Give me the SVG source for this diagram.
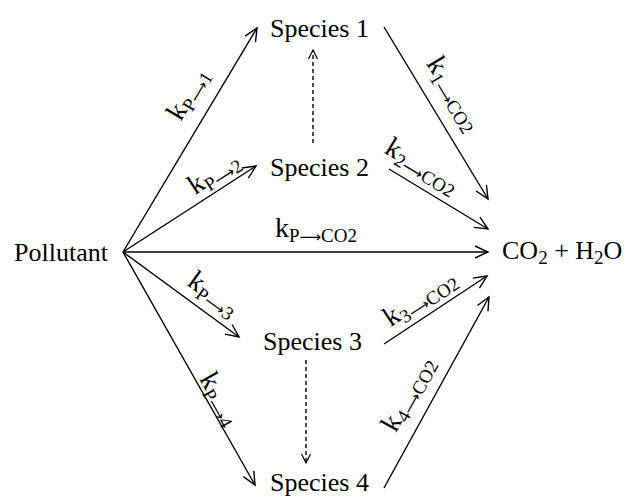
<svg xmlns="http://www.w3.org/2000/svg" width="626" height="497" viewBox="0 0 626 497">
<style>
text{font-family:"Liberation Serif","Times New Roman",serif;fill:#000}
.n{font-size:26px}
.k{font-size:28px}
.s{font-size:19px}
.r{font-family:"DejaVu Sans",sans-serif;font-size:15px}
.e{stroke:#000;stroke-width:1.4;fill:none}
.d{stroke-dasharray:4 3}
</style>
<defs>
<marker id="a" markerUnits="userSpaceOnUse" markerWidth="30" markerHeight="30" refX="0" refY="0" viewBox="-15 -15 30 30" orient="auto">
<path d="M-13,-6 L0,0 L-13,6" fill="none" stroke="#000" stroke-width="1.4"/>
</marker>
<marker id="b" markerUnits="userSpaceOnUse" markerWidth="30" markerHeight="30" refX="0" refY="0" viewBox="-15 -15 30 30" orient="auto">
<path d="M-9,-4.5 L0,0 L-9,4.5" fill="none" stroke="#000" stroke-width="1.2"/>
</marker>
</defs>
<g id="connectors">
<line class="e" x1="123" y1="252" x2="257" y2="28" marker-end="url(#a)"/>
<line class="e" x1="123" y1="252" x2="256" y2="166" marker-end="url(#a)"/>
<line class="e" x1="123" y1="252" x2="488" y2="252" marker-end="url(#a)"/>
<line class="e" x1="123" y1="252" x2="239" y2="337" marker-end="url(#a)"/>
<line class="e" x1="123" y1="252" x2="255" y2="485" marker-end="url(#a)"/>
<line class="e d" x1="313" y1="143" x2="313" y2="50" marker-end="url(#b)"/>
<line class="e d" x1="306" y1="360" x2="306" y2="463" marker-end="url(#b)"/>
<line class="e" x1="384" y1="27" x2="488" y2="199" marker-end="url(#a)"/>
<line class="e" x1="389" y1="169" x2="488" y2="229" marker-end="url(#a)"/>
<line class="e" x1="384" y1="344" x2="487" y2="276" marker-end="url(#a)"/>
<line class="e" x1="384" y1="488" x2="489" y2="297" marker-end="url(#a)"/>
<g id="labels">
<text class="k" text-anchor="middle" transform="translate(190,95) rotate(-59)" y="6">k<tspan class="s" dy="5">P<tspan class="r">⟶</tspan>1</tspan></text>
<text class="k" text-anchor="middle" transform="translate(215,175) rotate(-33)" y="6">k<tspan class="s" dy="5">P<tspan class="r">⟶</tspan>2</tspan></text>
<text class="k" text-anchor="middle" x="316" y="237">k<tspan class="s" dy="5">P<tspan class="r">⟶</tspan>CO2</tspan></text>
<text class="k" text-anchor="middle" transform="translate(212,296) rotate(36)" y="6">k<tspan class="s" dy="5">P<tspan class="r">⟶</tspan>3</tspan></text>
<text class="k" text-anchor="middle" transform="translate(218,400) rotate(60.5)" y="6">k<tspan class="s" dy="5">P<tspan class="r">⟶</tspan>4</tspan></text>
<text class="k" text-anchor="middle" transform="translate(452,95) rotate(58.8)" y="6">k<tspan class="s" dy="5">1<tspan class="r">⟶</tspan>CO2</tspan></text>
<text class="k" text-anchor="middle" transform="translate(421,168) rotate(31)" y="6">k<tspan class="s" dy="5">2<tspan class="r">⟶</tspan>CO2</tspan></text>
<text class="k" text-anchor="middle" transform="translate(421,300) rotate(-33.4)" y="6">k<tspan class="s" dy="5">3<tspan class="r">⟶</tspan>CO2</tspan></text>
<text class="k" text-anchor="middle" transform="translate(410,395) rotate(-61)" y="6">k<tspan class="s" dy="5">4<tspan class="r">⟶</tspan>CO2</tspan></text>
</g>
</g>
<g id="pollutant"><text class="n" x="14" y="261">Pollutant</text></g>
<g id="species1"><text class="n" x="270" y="37">Species 1</text></g>
<g id="species2"><text class="n" x="270" y="176">Species 2</text></g>
<g id="species3"><text class="n" x="263" y="350">Species 3</text></g>
<g id="species4"><text class="n" x="270" y="491">Species 4</text></g>
<g id="products"><text class="n" x="502" y="259">CO<tspan class="s" dy="5">2</tspan><tspan dy="-5"> + H</tspan><tspan class="s" dy="5">2</tspan><tspan dy="-5">O</tspan></text></g>
</svg>
